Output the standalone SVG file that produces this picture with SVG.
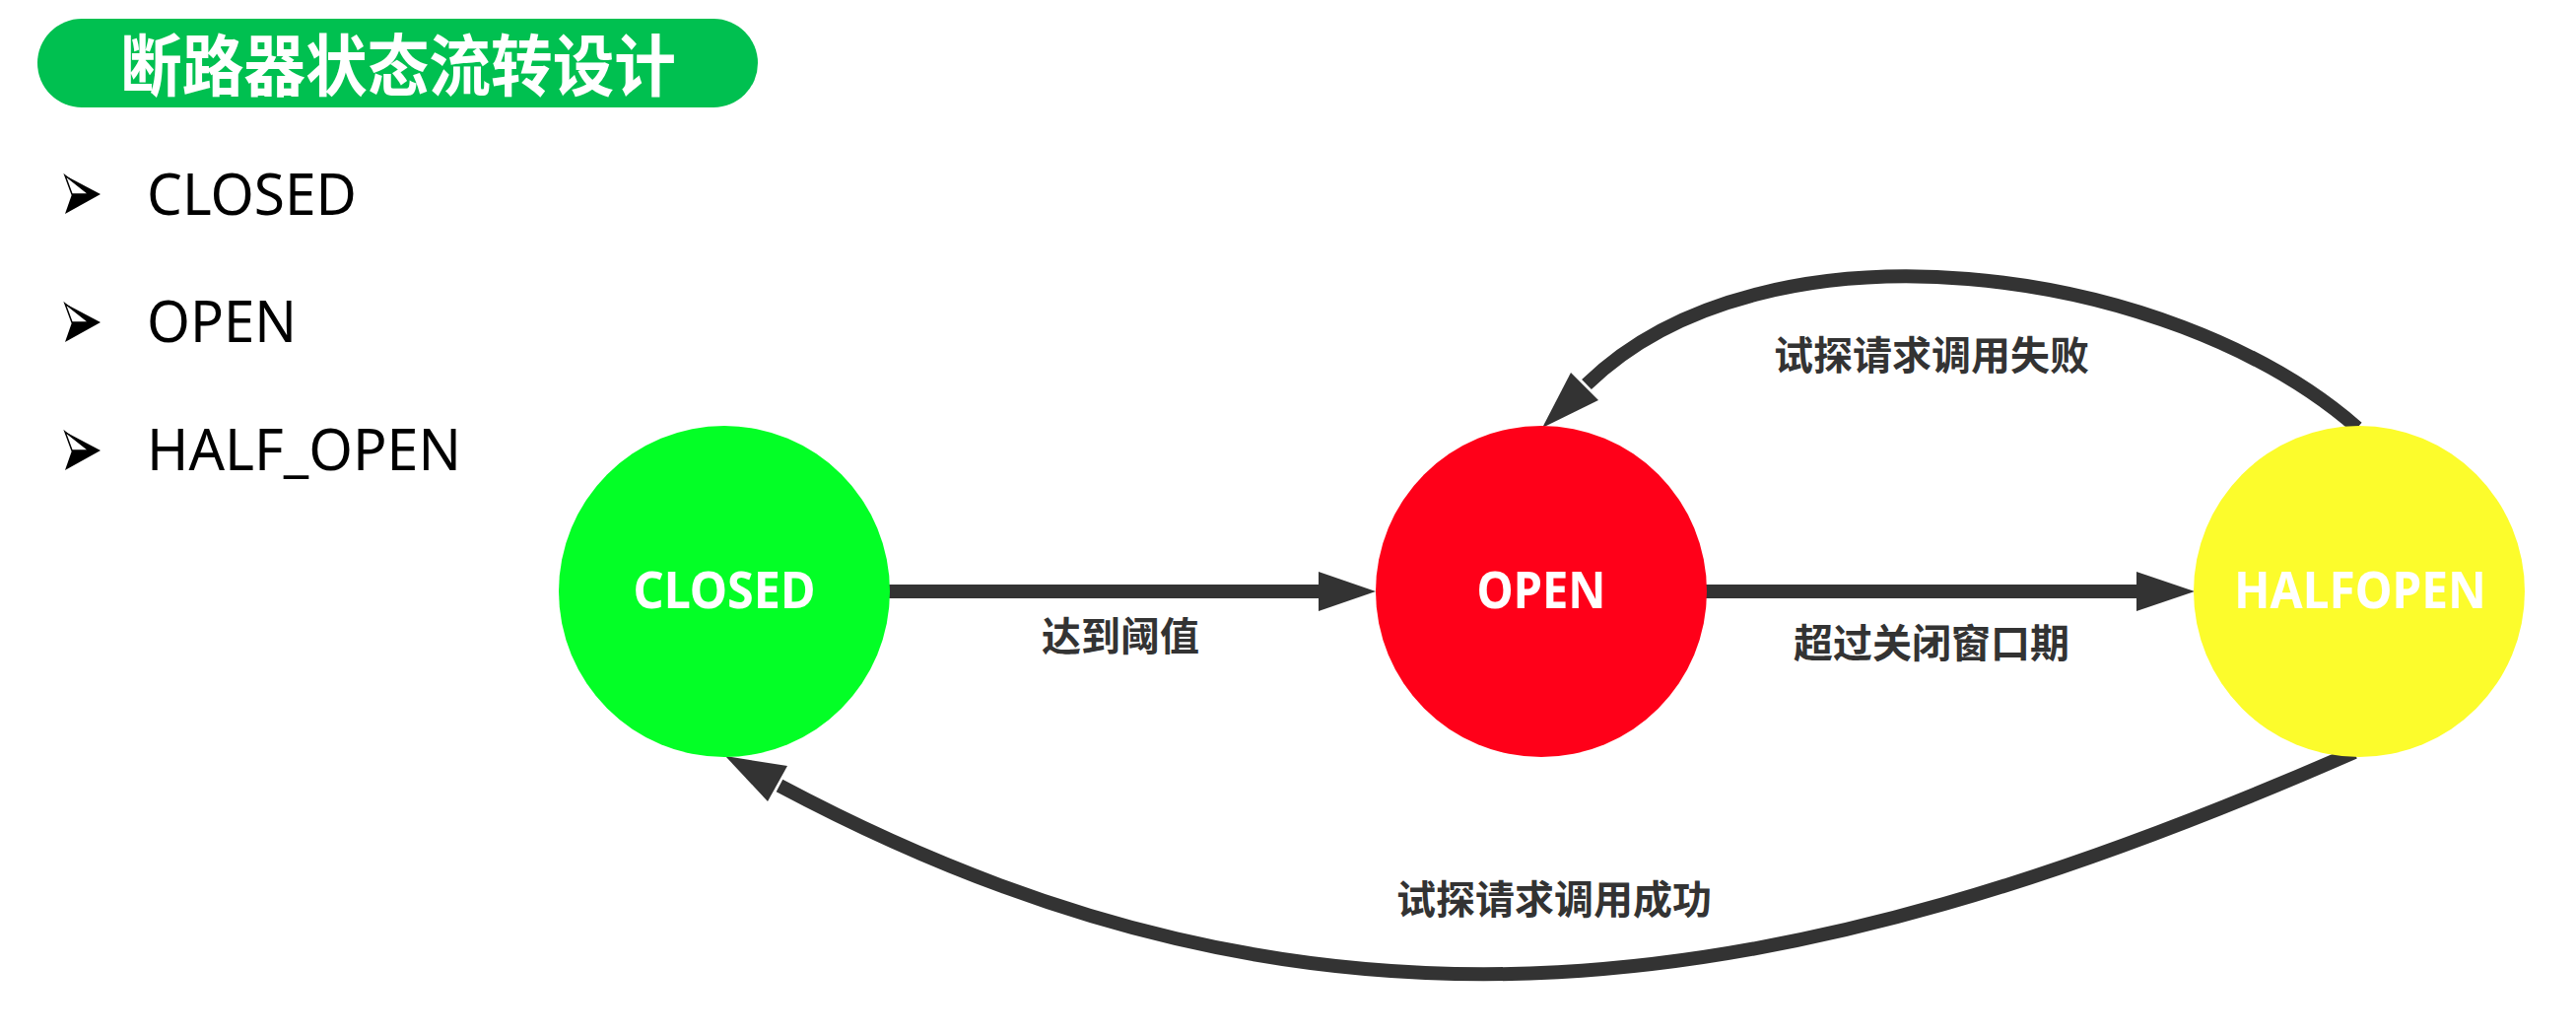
<svg xmlns="http://www.w3.org/2000/svg" width="2614" height="1050" viewBox="0 0 2614 1050">
<style>
.bul{font-family:"Noto Sans","Open Sans",sans-serif;font-size:58px;fill:#000}
.node{font-family:"Noto Sans","Open Sans",sans-serif;font-size:52px;font-weight:bold;fill:#fff;text-anchor:middle}
.lbl{font-family:"Noto Sans CJK SC","Noto Sans",sans-serif;font-size:40px;font-weight:bold;fill:#333;text-anchor:middle}
.edge{fill:none;stroke:#333;stroke-width:14}
.head{fill:#333}
</style>
<defs>
<g id="bullet">
<polygon points="0,0 24,19 7,19" fill="#fff" stroke="#000" stroke-width="1.5"/>
<polygon points="7,19 36,19 0,39" fill="#000"/>
<polygon points="0,0 36,19 24,19" fill="#000"/>
</g>
</defs>
<rect width="2614" height="1050" fill="#fff"/>
<g id="title">
<rect x="38" y="19" width="731" height="90" rx="45" fill="#00C050"/>
<text x="404" y="92" font-family="'Noto Sans CJK SC',sans-serif" font-size="68" font-weight="bold" fill="#fff" text-anchor="middle" textLength="564" lengthAdjust="spacingAndGlyphs">断路器状态流转设计</text>
</g>
<g id="bullets">
<use href="#bullet" x="66" y="178"/>
<text class="bul" x="149" y="218" textLength="213" lengthAdjust="spacingAndGlyphs">CLOSED</text>
<use href="#bullet" x="66" y="308"/>
<text class="bul" x="149" y="347" textLength="152" lengthAdjust="spacingAndGlyphs">OPEN</text>
<use href="#bullet" x="66" y="438"/>
<text class="bul" x="149" y="477" textLength="319" lengthAdjust="spacingAndGlyphs">HALF_OPEN</text>
</g>
<g id="connectors">
<line class="edge" x1="900" y1="600" x2="1342" y2="600"/>
<polygon class="head" points="1338,580 1396,600 1338,620"/>
<line class="edge" x1="1730" y1="600" x2="2172" y2="600"/>
<polygon class="head" points="2168,580 2227,600 2168,620"/>
<path class="edge" d="M2392,434 C2201,267 1791,213 1610,390"/>
<polygon class="head" points="1594,378 1622,406 1565,434"/>
<path class="edge" d="M2389,763 C1809,1017 1347,1093 791,797"/>
<polygon class="head" points="799,777 779,813 736,767"/>
<text class="lbl" x="1137" y="660">达到阈值</text>
<text class="lbl" x="1960" y="667">超过关闭窗口期</text>
<text class="lbl" x="1960" y="375">试探请求调用失败</text>
<text class="lbl" x="1577" y="927">试探请求调用成功</text>
</g>
<g id="node-closed">
<circle cx="735" cy="600" r="168" fill="#03FF26"/>
<text class="node" x="735" y="617" textLength="185" lengthAdjust="spacingAndGlyphs">CLOSED</text>
</g>
<g id="node-open">
<circle cx="1564" cy="600" r="168" fill="#FF0019"/>
<text class="node" x="1564" y="617" textLength="131" lengthAdjust="spacingAndGlyphs">OPEN</text>
</g>
<g id="node-halfopen">
<circle cx="2394" cy="600" r="168" fill="#FCFC2C"/>
<text class="node" x="2395" y="617" textLength="256" lengthAdjust="spacingAndGlyphs">HALFOPEN</text>
</g>
</svg>
